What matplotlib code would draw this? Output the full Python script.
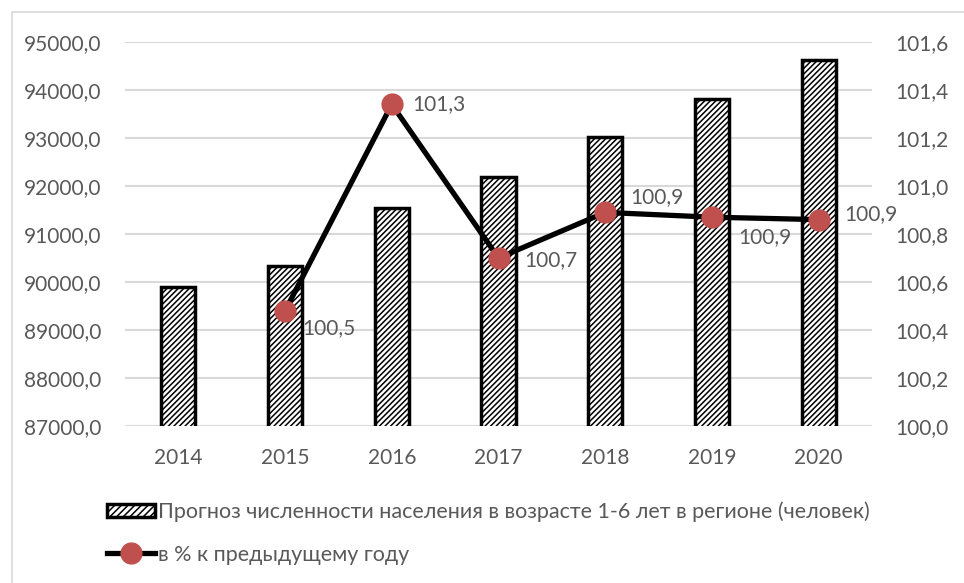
import numpy as np
import matplotlib
matplotlib.use("Agg")
import matplotlib.pyplot as plt
from matplotlib.patches import Patch, Rectangle
from matplotlib.lines import Line2D
from matplotlib.ticker import FuncFormatter

# data
years = ["2014", "2015", "2016", "2017", "2018", "2019", "2020"]
population = [89900, 90330, 91545, 92190, 93020, 93815, 94625]
pct_years = ["2015", "2016", "2017", "2018", "2019", "2020"]
pct_values = [100.48, 101.34, 100.70, 100.89, 100.87, 100.86]
pct_labels = ["100,5", "101,3", "100,7", "100,9", "100,9", "100,9"]
# label offsets (pixels) relative to each point
label_offsets = [(44, -17), (47, 0), (52, -2), (52, 15), (53, -20), (52, 6)]

bar_label = "Прогноз численности населения в возрасте 1-6 лет в регионе (человек)"
line_label = "в % к предыдущему году"

plt.rcParams["font.family"] = ["Lato", "DejaVu Sans"]
plt.rcParams["hatch.linewidth"] = 1.1
plt.rcParams["hatch.color"] = "#333333"
text_color = "#595959"
red = "#C0504D"

fig = plt.figure(figsize=(9.64, 5.83), dpi=100)
ax = fig.add_axes([125 / 964, 1 - 426 / 583, (872 - 125) / 964, (426 - 42) / 583])

x = np.arange(len(years))
ax.bar(x, population, width=0.32, color="white", edgecolor="black",
       linewidth=2.5, hatch="//////", zorder=2)
ax.set_ylim(87000, 95000)
ax.set_yticks(np.arange(87000, 95001, 1000))
ax.yaxis.set_major_formatter(FuncFormatter(lambda v, p: f"{v:.1f}".replace(".", ",")))
ax.set_xlim(-0.5, len(years) - 0.5)
ax.set_xticks(x)
ax.set_xticklabels(years)
ax.grid(axis="y", color="#D9D9D9", linewidth=1.5, zorder=0)
ax.set_axisbelow(True)
for s in ax.spines.values():
    s.set_visible(False)
ax.tick_params(axis="both", length=0, labelsize=15, colors=text_color)
ax.tick_params(axis="y", pad=17)
ax.tick_params(axis="x", pad=16)

ax2 = ax.twinx()
px = [years.index(y) for y in pct_years]
ax2.plot(px, pct_values, color="black", linewidth=3.8, marker="o",
         markersize=15, markerfacecolor=red, markeredgecolor=red, zorder=3)
ax2.set_ylim(100.0, 101.6)
ax2.set_yticks(np.arange(100.0, 101.61, 0.2))
ax2.yaxis.set_major_formatter(FuncFormatter(lambda v, p: f"{v:.1f}".replace(".", ",")))
for s in ax2.spines.values():
    s.set_visible(False)
ax2.tick_params(axis="y", length=0, labelsize=15, colors=text_color, pad=17)

for xi, yi, lab, off in zip(px, pct_values, pct_labels, label_offsets):
    ax2.annotate(lab, (xi, yi), xytext=off, textcoords="offset pixels",
                 ha="center", va="center", fontsize=15, color=text_color)

handles = [
    Patch(facecolor="white", edgecolor="black", linewidth=2.5, hatch="/////"),
    Line2D([0], [0], color="black", linewidth=3.8, marker="o", markersize=15,
           markerfacecolor=red, markeredgecolor=red),
]
leg = fig.legend(handles, [bar_label, line_label], loc="upper left",
                 bbox_to_anchor=(88 / 964, 1 - 482 / 583), frameon=False,
                 fontsize=15.5, handlelength=2.2, handleheight=0.6,
                 handletextpad=0.15, labelspacing=1.05, labelcolor=text_color)

# light frame around the chart area
fig.patches.append(Rectangle((12 / 964, -0.1), 1.2, 1.1 - 12 / 583,
                             transform=fig.transFigure, fill=False,
                             edgecolor="#D9D9D9", linewidth=1.2))

fig.savefig("out.png", dpi=100)
